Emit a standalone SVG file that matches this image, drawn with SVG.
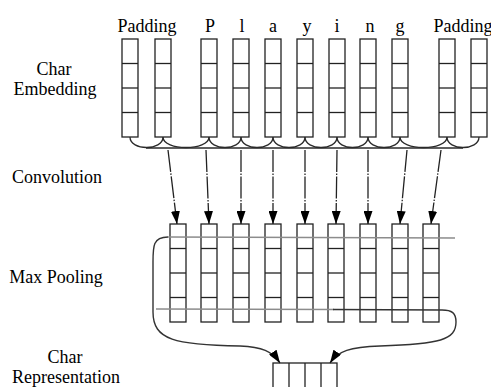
<svg xmlns="http://www.w3.org/2000/svg" xmlns:xlink="http://www.w3.org/1999/xlink" width="491" height="387" viewBox="0 0 491 387">
<style>
  .lbl { font-family: "Liberation Serif", "Times New Roman", serif; font-size: 18px; fill: #000; text-anchor: middle; }
  .box { fill: #fff; stroke: #222; stroke-width: 1.3; }
  .div { stroke: #222; stroke-width: 1.3; }
  .arc { fill: none; stroke: #2a2a2a; stroke-width: 1.3; }
  .arr { fill: none; stroke: #222; stroke-width: 1.3; stroke-dasharray: 22 1.5 1.5 1.5; }
  .gray { fill: none; stroke: #8c8c8c; stroke-width: 1.6; }
  .curve { fill: none; stroke: #333; stroke-width: 1.4; }
</style>
<defs>
  <marker id="ah" viewBox="0 0 13 9" refX="13" refY="4.5" markerWidth="13" markerHeight="9" markerUnits="userSpaceOnUse" orient="auto">
    <path d="M0,0 L13,4.5 L0,9 Z" fill="#000"/>
  </marker>
  <g id="col">
    <rect class="box" x="0" y="0" width="16" height="98"/>
    <line class="div" x1="0" y1="24.5" x2="16" y2="24.5"/>
    <line class="div" x1="0" y1="49" x2="16" y2="49"/>
    <line class="div" x1="0" y1="73.5" x2="16" y2="73.5"/>
  </g>
</defs>
<rect width="491" height="387" fill="#fff"/>

<g id="row-labels">
  <text class="lbl" x="54" y="75">Char</text>
  <text class="lbl" x="55" y="95">Embedding</text>
  <text class="lbl" x="57" y="183">Convolution</text>
  <text class="lbl" x="56" y="283">Max Pooling</text>
  <text class="lbl" x="65" y="363">Char</text>
  <text class="lbl" x="66" y="382.5">Representation</text>
</g>

<g id="char-labels">
  <text class="lbl" x="147" y="31.5">Padding</text>
  <text class="lbl" x="210" y="31.5">P</text>
  <text class="lbl" x="242" y="31.5">l</text>
  <text class="lbl" x="273" y="31.5">a</text>
  <text class="lbl" x="307" y="31.5">y</text>
  <text class="lbl" x="337" y="31.5">i</text>
  <text class="lbl" x="370" y="31.5">n</text>
  <text class="lbl" x="400" y="31.5">g</text>
  <text class="lbl" x="463" y="31.5">Padding</text>
</g>

<g id="emb-pad1"><use xlink:href="#col" x="122" y="39"/></g>
<g id="emb-pad2"><use xlink:href="#col" x="155" y="39"/></g>
<g id="emb-P"><use xlink:href="#col" x="201" y="39"/></g>
<g id="emb-l"><use xlink:href="#col" x="233" y="39"/></g>
<g id="emb-a"><use xlink:href="#col" x="265" y="39"/></g>
<g id="emb-y"><use xlink:href="#col" x="297" y="39"/></g>
<g id="emb-i"><use xlink:href="#col" x="329" y="39"/></g>
<g id="emb-n"><use xlink:href="#col" x="360" y="39"/></g>
<g id="emb-g"><use xlink:href="#col" x="392" y="39"/></g>
<g id="emb-pad3"><use xlink:href="#col" x="439" y="39"/></g>
<g id="emb-pad4"><use xlink:href="#col" x="471" y="39"/></g>

<g id="pool-1"><use xlink:href="#col" x="170" y="224"/></g>
<g id="pool-2"><use xlink:href="#col" x="201" y="224"/></g>
<g id="pool-3"><use xlink:href="#col" x="233" y="224"/></g>
<g id="pool-4"><use xlink:href="#col" x="265" y="224"/></g>
<g id="pool-5"><use xlink:href="#col" x="297" y="224"/></g>
<g id="pool-6"><use xlink:href="#col" x="328" y="224"/></g>
<g id="pool-7"><use xlink:href="#col" x="360" y="224"/></g>
<g id="pool-8"><use xlink:href="#col" x="392" y="224"/></g>
<g id="pool-9"><use xlink:href="#col" x="423" y="224"/></g>

<g id="char-representation">
  <rect class="box" x="273" y="363" width="64" height="32"/>
  <line class="div" x1="289" y1="363" x2="289" y2="395"/>
  <line class="div" x1="305" y1="363" x2="305" y2="395"/>
  <line class="div" x1="321" y1="363" x2="321" y2="395"/>
</g>

<g id="connectors">
  <!-- convolution window arcs -->
  <path class="arc" d="M130 137 C130 151,163 151,163 137"/>
  <path class="arc" d="M163 137 C163 151,209 151,209 137"/>
  <path class="arc" d="M209 137 C209 151,241 151,241 137"/>
  <path class="arc" d="M241 137 C241 151,273 151,273 137"/>
  <path class="arc" d="M273 137 C273 151,305 151,305 137"/>
  <path class="arc" d="M305 137 C305 151,337 151,337 137"/>
  <path class="arc" d="M337 137 C337 151,368 151,368 137"/>
  <path class="arc" d="M368 137 C368 151,400 151,400 137"/>
  <path class="arc" d="M400 137 C400 151,447 151,447 137"/>
  <path class="arc" d="M447 137 C447 151,479 151,479 137"/>
  <line class="arc" x1="146" y1="148" x2="463" y2="148"/>

  <!-- convolution outputs -->
  <line class="arr" x1="168" y1="150" x2="177" y2="224" marker-end="url(#ah)"/>
  <line class="arr" x1="206" y1="150" x2="209" y2="224" marker-end="url(#ah)"/>
  <line class="arr" x1="241" y1="150" x2="241" y2="224" marker-end="url(#ah)"/>
  <line class="arr" x1="273" y1="150" x2="273" y2="224" marker-end="url(#ah)"/>
  <line class="arr" x1="305" y1="150" x2="305" y2="224" marker-end="url(#ah)"/>
  <line class="arr" x1="337" y1="150" x2="336" y2="224" marker-end="url(#ah)"/>
  <line class="arr" x1="368" y1="150" x2="368" y2="224" marker-end="url(#ah)"/>
  <line class="arr" x1="407" y1="150" x2="400" y2="224" marker-end="url(#ah)"/>
  <line class="arr" x1="441" y1="150" x2="431" y2="224" marker-end="url(#ah)"/>

  <!-- max pooling lines -->
  <line class="gray" x1="168" y1="237" x2="455" y2="238"/>
  <line class="gray" x1="156" y1="309" x2="334" y2="309.5"/>
  <line class="curve" x1="333" y1="309.5" x2="442" y2="310"/>
  <path class="curve" d="M168 237 C153 237,153 246,153 262 L153 312 C153 340,175 345,240 346 C262 347,272 351,280 363" marker-end="url(#ah)"/>
  <path class="curve" d="M442 310 C452 310,456 313,456 322 C456 340,440 344,380 346 C350 347,338 351,330 363" marker-end="url(#ah)"/>
</g>
</svg>
